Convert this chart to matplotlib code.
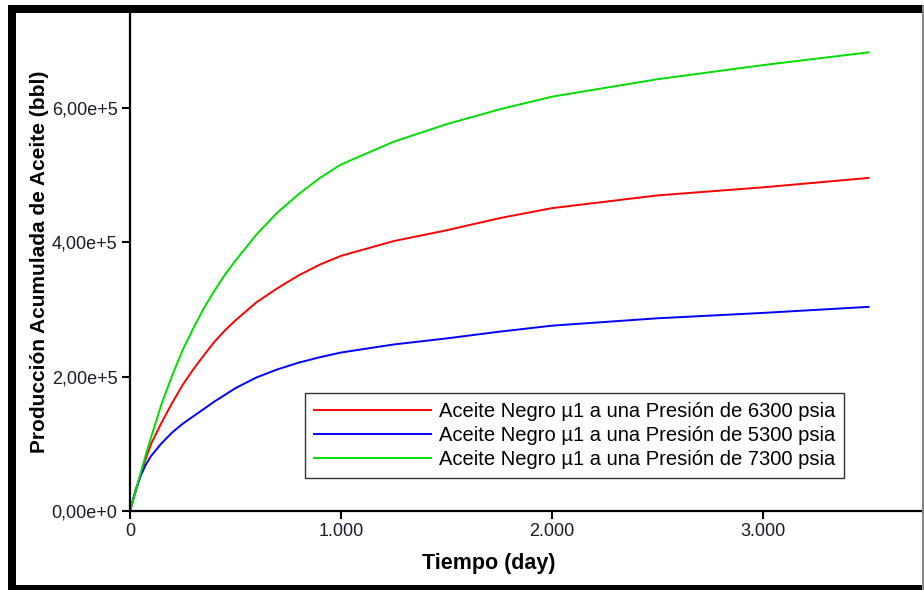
import matplotlib.pyplot as plt
from matplotlib.patches import Rectangle
from matplotlib.ticker import FuncFormatter

# Data (days, bbl)
dias = [0, 25, 50, 75, 100, 150, 200, 250, 300, 350, 400, 450, 500, 600, 700, 800, 900,
        1000, 1250, 1500, 1750, 2000, 2500, 3000, 3500]
aceite_6300 = [0, 0.27e5, 0.54e5, 0.78e5, 1.00e5, 1.32e5, 1.61e5, 1.88e5, 2.11e5, 2.32e5,
               2.52e5, 2.69e5, 2.84e5, 3.11e5, 3.32e5, 3.51e5, 3.67e5,
               3.80e5, 4.02e5, 4.18e5, 4.36e5, 4.51e5, 4.70e5, 4.82e5, 4.96e5]
aceite_5300 = [0, 0.30e5, 0.52e5, 0.69e5, 0.82e5, 1.01e5, 1.17e5, 1.30e5, 1.41e5, 1.52e5,
               1.63e5, 1.73e5, 1.83e5, 1.99e5, 2.11e5, 2.21e5, 2.29e5,
               2.36e5, 2.48e5, 2.57e5, 2.67e5, 2.76e5, 2.87e5, 2.95e5, 3.04e5]
aceite_7300 = [0, 0.28e5, 0.56e5, 0.84e5, 1.10e5, 1.60e5, 2.02e5, 2.40e5, 2.72e5, 3.02e5,
               3.28e5, 3.52e5, 3.73e5, 4.12e5, 4.45e5, 4.72e5, 4.96e5,
               5.16e5, 5.50e5, 5.76e5, 5.98e5, 6.17e5, 6.43e5, 6.64e5, 6.83e5]

etiquetas = ['Aceite Negro µ1 a una Presión de 6300 psia',
             'Aceite Negro µ1 a una Presión de 5300 psia',
             'Aceite Negro µ1 a una Presión de 7300 psia']
colores = ['#ff0000', '#0000ff', '#00dd00']

plt.rcParams['font.family'] = ['Liberation Sans', 'DejaVu Sans']

W, H = 924, 590
fig = plt.figure(figsize=(W / 100, H / 100), dpi=100)

# axes placed in pixel terms of the reference
ax = fig.add_axes([130 / W, (H - 511) / H, (923 - 130) / W, (511 - 13) / H])

for serie, lab, col in zip([aceite_6300, aceite_5300, aceite_7300], etiquetas, colores):
    ax.plot(dias, serie, color=col, lw=1.4, label=lab)

ax.set_xlim(0, 3758)
ax.set_ylim(0, 7.416e5)
ax.set_xticks([0, 1000, 2000, 3000])
ax.set_yticks([0, 2e5, 4e5, 6e5])

def fmt_x(v, pos):
    return f'{int(v):,}'.replace(',', '.')

def fmt_y(v, pos):
    if v == 0:
        return '0,00e+0'
    exp = len(str(int(abs(v)))) - 1
    return f'{v / 10**exp:.2f}'.replace('.', ',') + f'e+{exp}'

ax.xaxis.set_major_formatter(FuncFormatter(fmt_x))
ax.yaxis.set_major_formatter(FuncFormatter(fmt_y))

for s in ['top', 'right']:
    ax.spines[s].set_visible(False)
for s in ['left', 'bottom']:
    ax.spines[s].set_linewidth(1.6)
ax.tick_params(direction='out', length=6, width=1.5, labelsize=13,
               labelcolor='#1a1a2a', pad=3)

fig.text(40 / W, (H - 262) / H, 'Producción Acumulada de Aceite (bbl)', rotation=90,
         ha='center', va='center', fontsize=15, fontweight='bold')
fig.text(489 / W, (H - 563) / H, 'Tiempo (day)', ha='center', va='center',
         fontsize=15.5, fontweight='bold')

leg = ax.legend(loc='upper left', bbox_to_anchor=(305 / W, (H - 393) / H),
                bbox_transform=fig.transFigure, borderaxespad=0, fancybox=False,
                handlelength=5.8, fontsize=14.5, framealpha=1, labelspacing=0.25,
                handletextpad=0.4, borderpad=0.45)
leg.get_frame().set_edgecolor('#333333')
leg.get_frame().set_linewidth(1.0)

# black frame around the picture
def px_rect(x0, y0, x1, y1, color):
    fig.add_artist(Rectangle((x0 / W, (H - y1) / H), (x1 - x0) / W, (y1 - y0) / H,
                             transform=fig.transFigure, color=color, lw=0, zorder=10))

px_rect(8, 5, 16, 590, 'black')
px_rect(8, 5, 924, 13, 'black')
px_rect(8, 585, 924, 590, 'black')
px_rect(922, 5, 924, 590, '#888888')

fig.savefig('out.png', dpi=100)
